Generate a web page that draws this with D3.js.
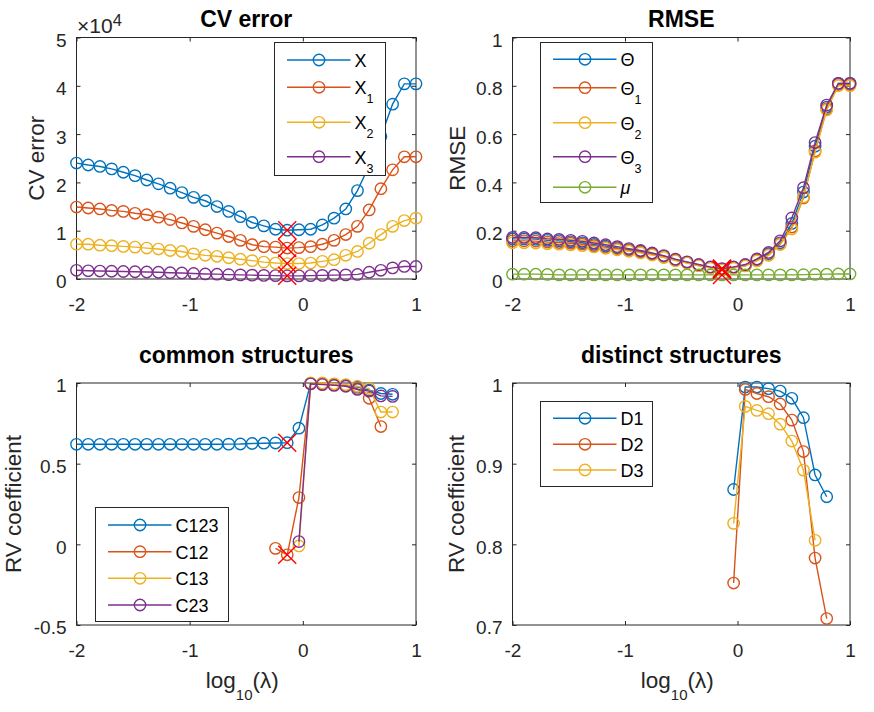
<!DOCTYPE html>
<html>
<head>
<meta charset="utf-8">
<script src="https://cdn.jsdelivr.net/npm/d3@7"></script>
<style>
  body { margin: 0; background: #fff; }
  svg { display: block; }
</style>
</head>
<body>
<div id="chart"></div>
<script>
// log10(lambda) grid, 30 points from -2 to 1
const logLambda = [-2, -1.8966, -1.7931, -1.6897, -1.5862, -1.4828, -1.3793, -1.2759, -1.1724, -1.0690,
  -0.9655, -0.8621, -0.7586, -0.6552, -0.5517, -0.4483, -0.3448, -0.2414, -0.1379, -0.0345,
  0.0690, 0.1724, 0.2759, 0.3793, 0.4828, 0.5862, 0.6897, 0.7931, 0.8966, 1];
const xTicks = [-2, -1, 0, 1];

// CV error
const cvX  = [24000, 23600, 23300, 22800, 22100, 21400, 20500, 19700, 18800, 17900, 16900, 16200, 15000, 14000, 12900,
  11700, 11000, 10300, 10100, 10200, 10300, 11200, 12600, 14500, 18300, 23500, 29500, 36200, 40400, 40400];
const cvX1 = [14900, 14700, 14500, 14200, 14000, 13600, 13300, 12800, 12300, 11600, 10900, 10200, 9500, 8800, 8000,
  7100, 6700, 6600, 6400, 6500, 6700, 7200, 8000, 9200, 10900, 14300, 18700, 22600, 25300, 25300];
const cvX2 = [7200, 7200, 7000, 6900, 6750, 6600, 6400, 6200, 5900, 5700, 5200, 4900, 4700, 4400, 4100,
  3800, 3500, 3300, 3200, 3200, 3300, 3650, 4000, 4900, 5700, 7400, 9200, 10900, 12100, 12600];
const cvX3 = [1800, 1700, 1650, 1600, 1550, 1500, 1450, 1400, 1300, 1250, 1150, 1050, 1000, 900, 850,
  800, 750, 700, 650, 650, 700, 750, 800, 850, 950, 1400, 1800, 2300, 2600, 2600];
const cvTicks = [0, 10000, 20000, 30000, 40000, 50000];

// RMSE
const rmseTheta  = [0.166, 0.166, 0.165, 0.160, 0.158, 0.154, 0.150, 0.143, 0.136, 0.129, 0.122, 0.115, 0.105, 0.094, 0.080,
  0.069, 0.058, 0.048, 0.041, 0.048, 0.057, 0.080, 0.105, 0.150, 0.230, 0.360, 0.550, 0.712, 0.810, 0.810];
const rmseTheta1 = [0.158, 0.158, 0.157, 0.153, 0.151, 0.148, 0.144, 0.138, 0.131, 0.125, 0.118, 0.111, 0.102, 0.091, 0.078,
  0.067, 0.056, 0.046, 0.039, 0.046, 0.055, 0.077, 0.100, 0.145, 0.215, 0.336, 0.530, 0.705, 0.805, 0.805];
const rmseTheta2 = [0.150, 0.150, 0.149, 0.146, 0.144, 0.141, 0.138, 0.133, 0.127, 0.121, 0.115, 0.108, 0.099, 0.089, 0.076,
  0.066, 0.055, 0.045, 0.038, 0.045, 0.054, 0.075, 0.098, 0.143, 0.207, 0.340, 0.525, 0.700, 0.800, 0.800];
const rmseTheta3 = [0.172, 0.172, 0.171, 0.166, 0.164, 0.160, 0.156, 0.149, 0.142, 0.134, 0.126, 0.118, 0.108, 0.097, 0.082,
  0.071, 0.060, 0.050, 0.043, 0.050, 0.060, 0.083, 0.110, 0.158, 0.253, 0.378, 0.565, 0.720, 0.810, 0.810];
const rmseMu     = [0.020, 0.020, 0.020, 0.019, 0.017, 0.017, 0.017, 0.017, 0.017, 0.017, 0.017, 0.017, 0.017, 0.017, 0.017,
  0.017, 0.017, 0.017, 0.017, 0.017, 0.017, 0.017, 0.017, 0.017, 0.017, 0.018, 0.019, 0.020, 0.021, 0.021];
const rmseTicks = [0, 0.2, 0.4, 0.6, 0.8, 1];

// common structures (RV coefficient)
const _ = null;
const rvC123 = [0.620, 0.620, 0.620, 0.620, 0.620, 0.620, 0.620, 0.620, 0.620, 0.620, 0.620, 0.620, 0.620, 0.621, 0.622,
  0.625, 0.627, 0.628, 0.630, 0.720, 0.997, 0.995, 0.990, 0.985, 0.975, 0.955, 0.935, 0.930, _, _];
const rvC12  = [_, _, _, _, _, _, _, _, _, _, _, _, _, _, _,
  _, _, -0.025, -0.065, 0.290, 0.995, 0.995, 0.990, 0.985, 0.965, 0.905, 0.730, _, _, _];
const rvC13  = [_, _, _, _, _, _, _, _, _, _, _, _, _, _, _,
  _, _, _, _, -0.010, 1.000, 1.000, 0.995, 0.990, 0.980, 0.965, 0.820, 0.820, _, _];
const rvC23  = [_, _, _, _, _, _, _, _, _, _, _, _, _, _, _,
  _, _, _, _, 0.017, 0.995, 0.990, 0.985, 0.980, 0.960, 0.950, 0.920, 0.917, _, _];
const commonTicks = [-0.5, 0, 0.5, 1];

// distinct structures (RV coefficient)
const rvD1 = [_, _, _, _, _, _, _, _, _, _, _, _, _, _, _,
  _, _, _, _, 0.868, 0.995, 0.995, 0.993, 0.990, 0.981, 0.957, 0.886, 0.859, _, _];
const rvD2 = [_, _, _, _, _, _, _, _, _, _, _, _, _, _, _,
  _, _, _, _, 0.752, 0.992, 0.987, 0.983, 0.974, 0.954, 0.915, 0.783, 0.708, _, _];
const rvD3 = [_, _, _, _, _, _, _, _, _, _, _, _, _, _, _,
  _, _, _, _, 0.826, 0.971, 0.966, 0.962, 0.949, 0.928, 0.892, 0.805, _, _, _];
const distinctTicks = [0.7, 0.8, 0.9, 1];

// index of the selected lambda (red crosses)
const selIdx = 18;

const C = ['#0072BD', '#D95319', '#EDB120', '#7E2F8E', '#77AC30'];
const FONT = '"Liberation Sans", Arial, Helvetica, sans-serif';
const AX = '#262626';
const tickLen = 4;

const svg = d3.select('#chart').append('svg')
  .attr('width', 874).attr('height', 712)
  .style('font-family', FONT);

function legendText(sel, label) {
  const parts = label.split('_');
  const t = sel.append('tspan').text(parts[0]);
  if (parts[0] === 'μ') t.style('font-style', 'italic');
  if (parts[1]) sel.append('tspan').attr('dy', 9).attr('font-size', 12.5).text(parts[1]);
}

function drawPanel(p) {
  const g = svg.append('g').attr('transform', `translate(${p.left},${p.top})`);
  const x = d3.scaleLinear().domain([-2, 1]).range([0, p.w]);
  const y = d3.scaleLinear().domain(p.yDomain).range([p.h, 0]);
  const fmtX = d => String(d);

  const bottom = g.append('g').attr('transform', `translate(0,${p.h})`)
    .call(d3.axisBottom(x).tickValues(xTicks).tickSizeInner(-tickLen).tickSizeOuter(0).tickPadding(18.5).tickFormat(fmtX));
  const top = g.append('g')
    .call(d3.axisTop(x).tickValues(xTicks).tickSizeInner(-tickLen).tickSizeOuter(0).tickFormat(''));
  const left = g.append('g')
    .call(d3.axisLeft(y).tickValues(p.yTicks).tickSizeInner(-tickLen).tickSizeOuter(0).tickPadding(10).tickFormat(p.yFmt));
  const right = g.append('g').attr('transform', `translate(${p.w},0)`)
    .call(d3.axisRight(y).tickValues(p.yTicks).tickSizeInner(-tickLen).tickSizeOuter(0).tickFormat(''));
  [bottom, top, left, right].forEach(a => {
    a.select('.domain').remove();
    a.selectAll('line').attr('stroke', AX);
    a.selectAll('text').attr('fill', AX).style('font-family', FONT).attr('font-size', 19);
  });
  left.selectAll('text').attr('dy', '0.47em');

  g.append('rect').attr('width', p.w).attr('height', p.h)
    .attr('fill', 'none').attr('stroke', AX).attr('stroke-width', 1);

  const line = d3.line()
    .defined(d => d.v != null)
    .x(d => x(d.x)).y(d => y(d.v));

  p.series.forEach(s => {
    const pts = s.values.map((v, i) => ({ x: logLambda[i], v: v }));
    g.append('path').datum(pts).attr('d', line)
      .attr('fill', 'none').attr('stroke', s.color).attr('stroke-width', 1.4);
    g.selectAll(null).data(pts.filter(d => d.v != null)).enter().append('circle')
      .attr('cx', d => x(d.x)).attr('cy', d => y(d.v)).attr('r', 5.7)
      .attr('fill', 'none').attr('stroke', s.color).attr('stroke-width', 1.4);
  });

  // selected lambda
  p.series.filter(s => s.cross && s.values[selIdx] != null).forEach(s => {
    g.append('path')
      .attr('transform', `translate(${x(logLambda[selIdx])},${y(s.values[selIdx])})`)
      .attr('d', 'M-9,-9L9,9M-9,9L9,-9')
      .attr('stroke', '#FF0000').attr('stroke-width', 1.4).attr('fill', 'none');
  });

  // title
  svg.append('text').attr('x', p.left + p.w / 2).attr('y', p.titleY)
    .attr('text-anchor', 'middle').attr('font-size', 23).attr('font-weight', 'bold')
    .attr('fill', '#000').text(p.title);

  // y label
  svg.append('text')
    .attr('transform', `translate(${p.ylabelX},${p.top + p.h / 2}) rotate(-90)`)
    .attr('text-anchor', 'middle').attr('font-size', 22.5).attr('fill', AX).text(p.ylabel);

  // x label
  if (p.xlabel) {
    const t = svg.append('text').attr('x', p.left + p.w / 2 - 4).attr('y', 688)
      .attr('text-anchor', 'middle').attr('font-size', 22.5).attr('fill', AX);
    t.append('tspan').text('log');
    t.append('tspan').attr('dy', 12).attr('font-size', 15).text('10');
    t.append('tspan').attr('dy', -12).text('(λ)');
  }

  // legend
  const L = p.legend;
  const lg = svg.append('g');
  lg.append('rect').attr('x', L.x).attr('y', L.y).attr('width', L.w).attr('height', L.h)
    .attr('fill', '#fff').attr('stroke', AX).attr('stroke-width', 1);
  p.series.forEach((s, i) => {
    const ly = L.rows[i];
    lg.append('line').attr('x1', L.x + 12.5).attr('x2', L.x + 76).attr('y1', ly).attr('y2', ly)
      .attr('stroke', s.color).attr('stroke-width', 1.4);
    lg.append('circle').attr('cx', L.x + 44.5).attr('cy', ly).attr('r', 5.7)
      .attr('fill', 'none').attr('stroke', s.color).attr('stroke-width', 1.4);
    const t = lg.append('text').attr('x', L.x + 80).attr('y', ly + 7)
      .attr('font-size', 18).attr('fill', '#000');
    legendText(t, s.name);
  });
  return g;
}

const colL = 76.5, colR = 512.5, wL = 339.5, wR = 337.5;
const rowT = 37.5, rowB = 383, hT = 241.5, hB = 242;

drawPanel({
  left: colL, top: rowT, w: wL, h: hT,
  yDomain: [0, 50000], yTicks: cvTicks, yFmt: d => String(d / 10000),
  title: 'CV error', titleY: 26.7, ylabel: 'CV error', ylabelX: 44, xlabel: false,
  series: [
    { name: 'X', values: cvX, color: C[0], cross: true },
    { name: 'X_1', values: cvX1, color: C[1], cross: true },
    { name: 'X_2', values: cvX2, color: C[2], cross: true },
    { name: 'X_3', values: cvX3, color: C[3], cross: true }
  ],
  legend: { x: 274.5, y: 42.5, w: 111, h: 133, rows: [60, 87.3, 122.3, 156.7] }
});

// exponent label
const ex = svg.append('text').attr('x', 77).attr('y', 33).attr('font-size', 21).attr('fill', AX);
ex.append('tspan').text('×10');
ex.append('tspan').attr('dy', -7).attr('font-size', 16.5).text('4');

drawPanel({
  left: colR, top: rowT, w: wR, h: hT,
  yDomain: [0, 1], yTicks: rmseTicks, yFmt: d => String(d),
  title: 'RMSE', titleY: 26.7, ylabel: 'RMSE', ylabelX: 465, xlabel: false,
  series: [
    { name: 'Θ', values: rmseTheta, color: C[0], cross: true },
    { name: 'Θ_1', values: rmseTheta1, color: C[1], cross: true },
    { name: 'Θ_2', values: rmseTheta2, color: C[2], cross: true },
    { name: 'Θ_3', values: rmseTheta3, color: C[3], cross: true },
    { name: 'μ', values: rmseMu, color: C[4], cross: true }
  ],
  legend: { x: 540.5, y: 42.5, w: 112, h: 160, rows: [59.3, 87.7, 122.7, 156.7, 187.3] }
});

drawPanel({
  left: colL, top: rowB, w: wL, h: hB,
  yDomain: [-0.5, 1], yTicks: commonTicks, yFmt: d => String(d),
  title: 'common structures', titleY: 363.3, ylabel: 'RV coefficient', ylabelX: 21, xlabel: true,
  series: [
    { name: 'C123', values: rvC123, color: C[0], cross: true },
    { name: 'C12', values: rvC12, color: C[1], cross: true },
    { name: 'C13', values: rvC13, color: C[2], cross: true },
    { name: 'C23', values: rvC23, color: C[3], cross: true }
  ],
  legend: { x: 95.5, y: 507.5, w: 133, h: 114, rows: [525, 551.7, 578.3, 605] }
});

drawPanel({
  left: colR, top: rowB, w: wR, h: hB,
  yDomain: [0.7, 1], yTicks: distinctTicks, yFmt: d => String(d),
  title: 'distinct structures', titleY: 363.3, ylabel: 'RV coefficient', ylabelX: 464, xlabel: true,
  series: [
    { name: 'D1', values: rvD1, color: C[0], cross: false },
    { name: 'D2', values: rvD2, color: C[1], cross: false },
    { name: 'D3', values: rvD3, color: C[2], cross: false }
  ],
  legend: { x: 540.5, y: 401.5, w: 112, h: 85, rows: [418.3, 444.3, 470] }
});
</script>
</body>
</html>
